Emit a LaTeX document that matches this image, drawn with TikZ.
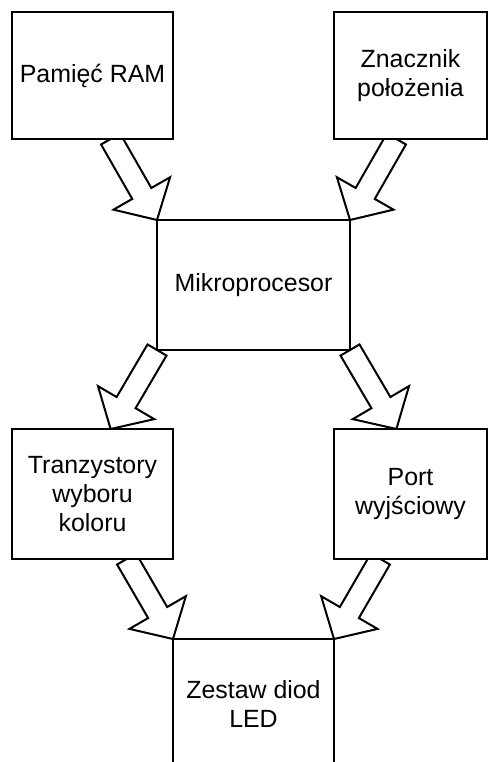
\documentclass[tikz,border=0pt]{standalone}
\usepackage{fontspec}
\setmainfont{Liberation Sans}
\usetikzlibrary{calc,backgrounds}

% hollow block arrow from #1 (tail) to #2 (tip)
\newcommand{\blockarrow}[2]{%
  \coordinate (neck) at ($(#2)!15.3pt!(#1)$);
  \draw[barrow] ($(#1)!5.5pt!90:(#2)$) -- ($(neck)!5.5pt!90:(#2)$)
    -- ($(neck)!16.3pt!90:(#2)$) -- (#2)
    -- ($(neck)!16.3pt!-90:(#2)$) -- ($(neck)!5.5pt!-90:(#2)$)
    -- ($(#1)!5.5pt!-90:(#2)$) -- cycle;}

\begin{document}
\begin{tikzpicture}[x=0.5pt, y=-0.5pt,
  box/.style={draw, fill=white, line width=1pt, outer sep=0pt, inner sep=2pt,
    align=center, font=\fontsize{12.45pt}{14.5pt}\selectfont},
  barrow/.style={draw, fill=white, line width=1pt}]
\clip (0,0) rectangle (488,762);
\node[box, minimum width=80.5pt, minimum height=63.5pt] (ram) at (92.5,75.5) {Pamięć RAM};
\node[box, minimum width=76.5pt, minimum height=63.5pt] (zn) at (410.5,75.5) {Znacznik\\położenia};
\node[box, minimum width=96.5pt, minimum height=65pt] (mp) at (253.5,285) {Mikroprocesor};
\node[box, minimum width=80.5pt, minimum height=65pt] (tr) at (92.5,494) {Tranzystory\\wyboru\\koloru};
\node[box, minimum width=76.5pt, minimum height=65pt] (port) at (410.5,494) {Port\\wyjściowy};
\node[box, minimum width=80.5pt, minimum height=65pt] (led) at (253.5,704) {Zestaw diod\\LED};
\begin{scope}[on background layer]
\coordinate (ramout) at ($(ram.south east)+(-62.4,0)$);
\coordinate (znout) at ($(zn.south west)+(62.4,0)$);
\coordinate (trin) at ($(tr.north east)+(-62.4,0)$);
\coordinate (portin) at ($(port.north west)+(62.4,0)$);
\coordinate (trout) at ($(tr.south east)+(-46.4,0)$);
\coordinate (portout) at ($(port.south west)+(46.4,0)$);
\blockarrow{ramout}{mp.north west}
\blockarrow{znout}{mp.north east}
\blockarrow{mp.south west}{trin}
\blockarrow{mp.south east}{portin}
\blockarrow{trout}{led.north west}
\blockarrow{portout}{led.north east}
\end{scope}
\end{tikzpicture}
\end{document}
